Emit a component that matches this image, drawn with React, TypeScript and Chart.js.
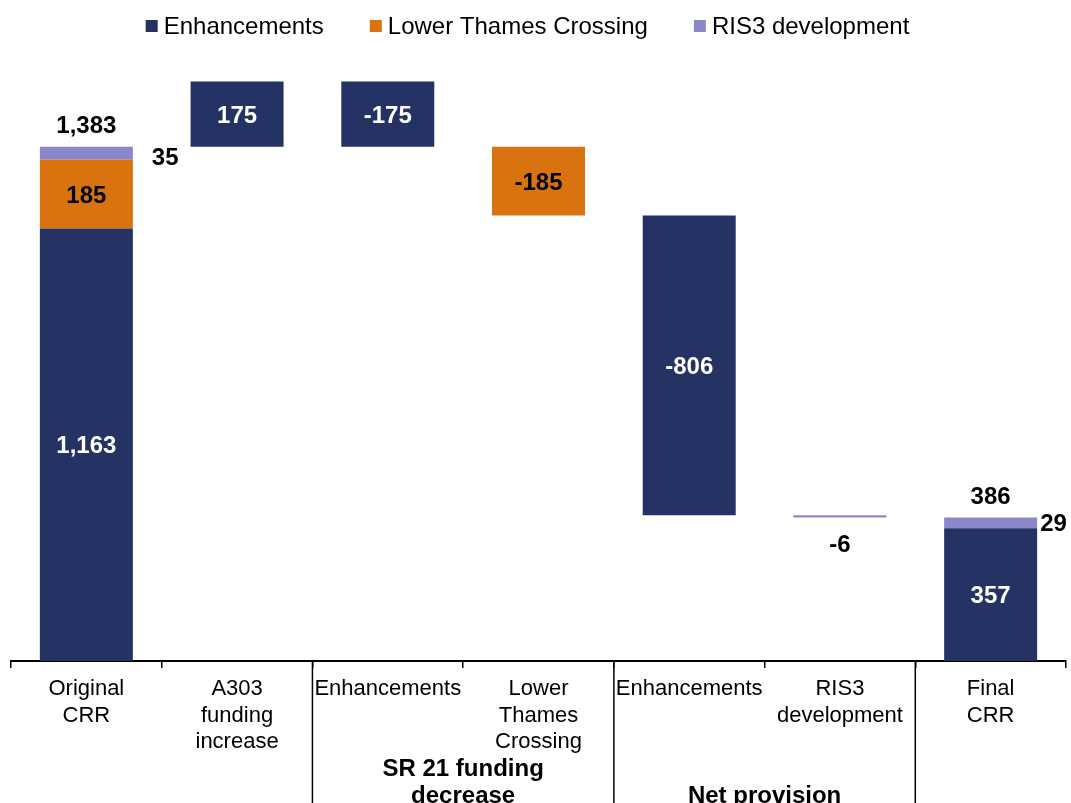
import React, { useEffect, useRef } from "react";
import { Chart, registerables } from "chart.js";

Chart.register(...registerables);

const FONT = "'Liberation Sans', Arial, sans-serif";

const categories: string[][] = [
  ["Original", "CRR"],
  ["A303", "funding", "increase"],
  ["Enhancements"],
  ["Lower", "Thames", "Crossing"],
  ["Enhancements"],
  ["RIS3", "development"],
  ["Final", "CRR"],
];
const isTotal = [true, false, false, false, false, false, true];
const enhancements = [1163, 175, -175, 0, -806, 0, 357];
const lowerThames = [185, 0, 0, -185, 0, 0, 0];
const ris3 = [35, 0, 0, 0, 0, -6, 29];
const seriesNames = ["Enhancements", "Lower Thames Crossing", "RIS3 development"];
const seriesColors = ["#253264", "#D9730F", "#8B87C9"];
const groupLabels = [
  { from: 2, to: 3, lines: ["SR 21 funding", "decrease"] },
  { from: 4, to: 5, lines: ["Net provision"] },
];
const dividerAfter = [1, 3, 5];
const yMax = 1600;

const series = [enhancements, lowerThames, ris3];
const DY = 2;

function buildRanges(): ([number, number] | null)[][] {
  const out: ([number, number] | null)[][] = series.map(() => []);
  let running = 0;
  for (let j = 0; j < categories.length; j++) {
    if (isTotal[j]) {
      let base = 0;
      series.forEach((s, i) => {
        const v = s[j];
        out[i].push(v ? [base, base + v] : null);
        base += v;
      });
      running = base;
    } else {
      series.forEach((s, i) => {
        const v = s[j];
        if (v) {
          out[i].push([running, running + v]);
          running += v;
        } else out[i].push(null);
      });
    }
  }
  return out;
}

const fmt = (v: number) => v.toLocaleString("en-US");

const labelPlugin = {
  id: "waterfallLabels",
  afterDatasetsDraw(chart: any) {
    const ctx = chart.ctx as CanvasRenderingContext2D;
    ctx.save();
    ctx.font = `bold 24px ${FONT}`;
    ctx.textBaseline = "middle";
    // inside labels
    [0, 1].forEach((i) => {
      const meta = chart.getDatasetMeta(i);
      series[i].forEach((v, j) => {
        if (!v) return;
        const el = meta.data[j] as any;
        if (!el) return;
        ctx.fillStyle = i === 0 ? "#ffffff" : "#000000";
        ctx.textAlign = "center";
        ctx.fillText(fmt(v), el.x, (el.y + el.base) / 2 + DY);
      });
    });
    // ris3 labels
    const m2 = chart.getDatasetMeta(2);
    ris3.forEach((v, j) => {
      if (!v) return;
      const el = m2.data[j] as any;
      if (!el) return;
      ctx.fillStyle = "#000000";
      const top = Math.min(el.y, el.base);
      const bottom = Math.max(el.y, el.base);
      if (isTotal[j]) {
        ctx.textAlign = "left";
        const gap = j === 0 ? 19 : 3;
        ctx.fillText(fmt(v), el.x + el.width / 2 + gap, (top + bottom) / 2 + (j === 0 ? 3 : 0) + DY);
      } else {
        ctx.textAlign = "center";
        ctx.fillText(fmt(v), el.x, bottom + 26 + DY);
      }
    });
    // totals
    isTotal.forEach((t, j) => {
      if (!t) return;
      let top = Infinity;
      let x = 0;
      let sum = 0;
      series.forEach((s, i) => {
        sum += s[j];
        const el = chart.getDatasetMeta(i).data[j] as any;
        if (el && s[j]) {
          top = Math.min(top, el.y, el.base);
          x = el.x;
        }
      });
      ctx.fillStyle = "#000000";
      ctx.textAlign = "center";
      ctx.fillText(fmt(sum), x, top - 22 + DY);
    });
    ctx.restore();
  },
  afterDraw(chart: any) {
    const ctx = chart.ctx as CanvasRenderingContext2D;
    const xs = chart.scales.x;
    const area = chart.chartArea;
    ctx.save();
    // dividers
    ctx.strokeStyle = "#000000";
    ctx.lineWidth = 1.5;
    dividerAfter.forEach((j) => {
      const x = (xs.getPixelForValue(j) + xs.getPixelForValue(j + 1)) / 2;
      ctx.beginPath();
      ctx.moveTo(x, area.bottom);
      ctx.lineTo(x, chart.height);
      ctx.stroke();
    });
    // group labels
    ctx.fillStyle = "#000000";
    ctx.font = `bold 24px ${FONT}`;
    ctx.textAlign = "center";
    ctx.textBaseline = "middle";
    groupLabels.forEach((g) => {
      const x = (xs.getPixelForValue(g.from) + xs.getPixelForValue(g.to)) / 2;
      const startY = g.lines.length === 2 ? 767 : 794;
      g.lines.forEach((line, k) => ctx.fillText(line, x, startY + k * 27 + DY));
    });
    // legend
    ctx.font = `24px ${FONT}`;
    ctx.textAlign = "left";
    const box = 12;
    const boxGap = 6;
    const itemGap = 46;
    const widths = seriesNames.map((n) => ctx.measureText(n).width);
    const total = widths.reduce((a, b) => a + b, 0) + seriesNames.length * (box + boxGap) + itemGap * (seriesNames.length - 1);
    let x = 527.5 - total / 2;
    const ly = 26;
    seriesNames.forEach((n, i) => {
      ctx.fillStyle = seriesColors[i];
      ctx.fillRect(x, ly - box / 2, box, box);
      x += box + boxGap;
      ctx.fillStyle = "#000000";
      ctx.fillText(n, x, ly + 1);
      x += widths[i] + itemGap;
    });
    ctx.restore();
  },
};

export default function App() {
  const canvasRef = useRef<HTMLCanvasElement | null>(null);

  useEffect(() => {
    if (!canvasRef.current) return;
    const ranges = buildRanges();
    const chart = new Chart(canvasRef.current, {
      type: "bar",
      data: {
        labels: categories,
        datasets: seriesNames.map((name, i) => ({
          label: name,
          data: ranges[i] as any,
          backgroundColor: seriesColors[i],
          borderWidth: 0,
          borderSkipped: false,
          grouped: false,
          barPercentage: 0.617,
          categoryPercentage: 1,
        })),
      },
      options: {
        animation: false,
        responsive: true,
        maintainAspectRatio: false,
        layout: { padding: { top: 66, left: 11, right: 5, bottom: 0 } },
        plugins: {
          legend: { display: false },
          tooltip: { enabled: false },
        },
        scales: {
          x: {
            type: "category",
            offset: true,
            grid: {
              display: true,
              offset: true,
              drawOnChartArea: false,
              drawTicks: true,
              tickLength: 7,
              color: "#000000",
              lineWidth: 1.5,
            },
            border: { display: true, color: "#000000", width: 2 },
            ticks: {
              color: "#000000",
              font: { family: FONT, size: 22 },
              padding: 8,
              maxRotation: 0,
              autoSkip: false,
            },
            afterFit: (scale: any) => {
              scale.height = 142;
            },
          },
          y: {
            display: false,
            min: 0,
            max: yMax,
          },
        },
      },
      plugins: [labelPlugin],
    });
    return () => chart.destroy();
  }, []);

  return (
    <div style={{ position: "fixed", left: 0, top: 0, width: 1071, height: 803, background: "#ffffff" }}>
      <canvas ref={canvasRef} />
    </div>
  );
}
